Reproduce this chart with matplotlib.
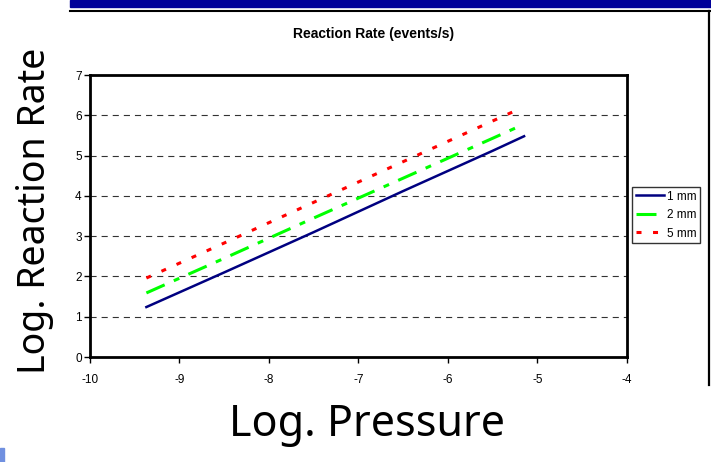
import matplotlib.pyplot as plt
from matplotlib.patches import Rectangle
from matplotlib.lines import Line2D

plt.rcParams["font.family"] = ["Liberation Sans", "DejaVu Sans"]
plt.rcParams["lines.scale_dashes"] = False
plt.rcParams["axes.unicode_minus"] = False

# data
log_p_1mm = [-9.37, -8.5, -7.5, -6.5, -5.5, -5.15]
rate_1mm = [1.24, 2.10, 3.10, 4.12, 5.12, 5.48]
log_p_2mm = [-9.37, -8.5, -7.5, -6.5, -5.5, -5.15]
rate_2mm = [1.59, 2.45, 3.45, 4.44, 5.43, 5.78]
log_p_5mm = [-9.37, -8.5, -7.5, -6.5, -5.5, -5.23]
rate_5mm = [1.96, 2.83, 3.84, 4.85, 5.86, 6.13]
x_ticks = [-10, -9, -8, -7, -6, -5, -4]
y_ticks = [0, 1, 2, 3, 4, 5, 6, 7]

W, H = 711, 462
fig = plt.figure(figsize=(W / 100, H / 100), dpi=100)

# slide decorations
fig.patches.append(Rectangle((70 / W, 1 - 7 / H), 1 - 70 / W, 7 / H,
                             transform=fig.transFigure, color="#000099", zorder=0))
fig.lines.append(Line2D([70 / W, 1], [1 - 10.5 / H] * 2, transform=fig.transFigure,
                        color="black", lw=1.5))
fig.lines.append(Line2D([708.5 / W] * 2, [1 - 10.5 / H, 1 - 385 / H],
                        transform=fig.transFigure, color="black", lw=1.6))
fig.patches.append(Rectangle((0, 0), 4 / W, 14 / H, transform=fig.transFigure,
                             color="#7090e0"))

ax = fig.add_axes([90 / W, 1 - 357 / H, 537 / W, 282 / H])

ax.plot(log_p_1mm, rate_1mm, color="#000080", lw=1.8, label="1 mm")
ax.plot(log_p_2mm, rate_2mm, color="#00ff00", lw=2.2,
        dashes=(14.4, 7.2, 4.3, 7.2), label="2 mm")
ax.plot(log_p_5mm, rate_5mm, color="#ff0000", lw=2.2,
        dashes=(3.6, 8.3), label="5 mm")

for y in y_ticks[1:-1]:
    ax.axhline(y, color="#333333", lw=0.8, dashes=(4.4, 3.6), zorder=0)

ax.set_xlim(-10, -4)
ax.set_ylim(0, 7)
ax.set_xticks(x_ticks)
ax.set_yticks(y_ticks)
ax.tick_params(axis="y", direction="out", length=4, width=1, pad=2, labelsize=8.5)
ax.tick_params(axis="x", direction="out", length=4, width=1, pad=8, labelsize=8.5)
for s in ax.spines.values():
    s.set_linewidth(2)

fig.text(374 / W, 1 - 34 / H, "Reaction Rate (events/s)", ha="center", va="center",
         fontsize=10, fontweight="bold")
fig.text(367 / W, 1 - 425 / H, "Log. Pressure", ha="center", va="center",
         fontsize=31, family="Noto Sans")
fig.text(35 / W, 1 - 211 / H, "Log. Reaction Rate", ha="center", va="center",
         rotation=90, fontsize=27, family="Noto Sans")

fig.legend(loc="upper left", bbox_to_anchor=(632 / W, 1 - 187 / H),
           fontsize=8.5, frameon=True, fancybox=False, edgecolor="#333333",
           framealpha=1, handlelength=2.4, handletextpad=0.25,
           labelspacing=0.55, borderpad=0.3, borderaxespad=0)

fig.savefig("out.png", dpi=100)
